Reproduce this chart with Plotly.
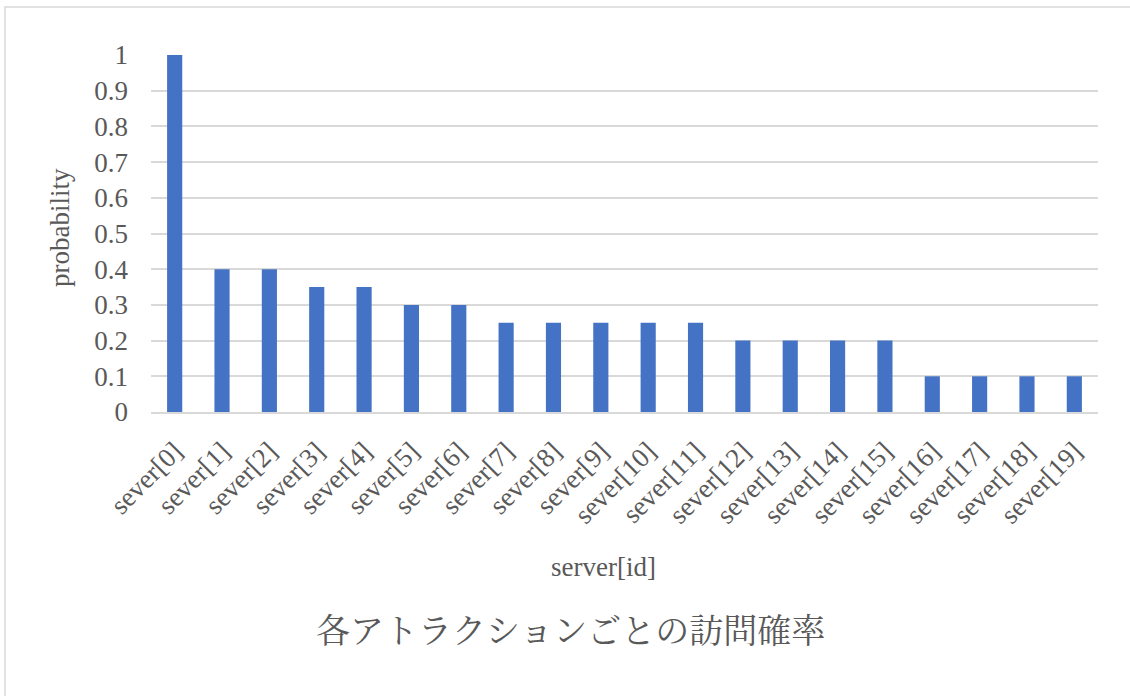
import plotly.graph_objects as go

categories = [f"sever[{i}]" for i in range(20)]
probability = [1.0, 0.4, 0.4, 0.35, 0.35, 0.3, 0.3, 0.25, 0.25, 0.25,
               0.25, 0.25, 0.2, 0.2, 0.2, 0.2, 0.1, 0.1, 0.1, 0.1]
y_ticks = [0, 0.1, 0.2, 0.3, 0.4, 0.5, 0.6, 0.7, 0.8, 0.9, 1]
y_tick_labels = ["0", "0.1", "0.2", "0.3", "0.4", "0.5", "0.6", "0.7", "0.8", "0.9", "1"]

TXT = "#595959"
SERIF = "Liberation Serif, Times New Roman, serif"
FS = 27

L, R, T, B = 151, 32, 55, 284
W, H = 1130, 696
pw, ph = W - L - R, H - T - B

def px_x(x):
    return (x - L) / pw

def px_y(y):
    return (H - B - y) / ph

fig = go.Figure(go.Bar(x=categories, y=probability, marker_color="#4472c4",
                       marker_line_width=0))

fig.update_layout(
    width=W, height=H,
    margin=dict(l=L, r=R, t=T, b=B),
    paper_bgcolor="white", plot_bgcolor="white",
    bargap=0.68,
    showlegend=False,
    font=dict(family=SERIF, color=TXT, size=FS),
    xaxis=dict(tickangle=-45, tickfont=dict(size=FS, family=SERIF, color=TXT),
               showgrid=False, showline=True, linecolor="#d9d9d9", linewidth=1.5,
               ticks="", ticklabelstandoff=11),
    yaxis=dict(range=[0, 1], tickvals=y_ticks, ticktext=y_tick_labels,
               tickfont=dict(size=FS, family=SERIF, color=TXT),
               showgrid=True, gridcolor="#d9d9d9", gridwidth=1.5,
               zeroline=False, showline=False, ticks="",
               ticklabelstandoff=22),
    annotations=[
        dict(text="probability", xref="paper", yref="paper", x=px_x(60), y=px_y(228),
             xanchor="center", yanchor="middle",
             showarrow=False, textangle=-90, font=dict(size=FS, family=SERIF, color=TXT)),
        dict(text="server[id]", xref="paper", yref="paper", x=px_x(603), y=px_y(567),
             xanchor="center", yanchor="middle",
             showarrow=False, font=dict(size=FS, family=SERIF, color=TXT)),
        dict(text="各アトラクションごとの訪問確率", xref="paper", yref="paper",
             x=px_x(570), y=px_y(628), xanchor="center", yanchor="middle", showarrow=False,
             font=dict(size=34, family="Noto Serif CJK JP, Noto Sans CJK JP", color=TXT)),
    ],
    shapes=[
        dict(type="rect", xref="paper", yref="paper",
             x0=px_x(5), x1=px_x(1140), y0=px_y(710), y1=px_y(7),
             line=dict(color="#d9d9d9", width=1.5), fillcolor="rgba(0,0,0,0)", layer="below"),
    ],
)

fig.write_html("out.html")
